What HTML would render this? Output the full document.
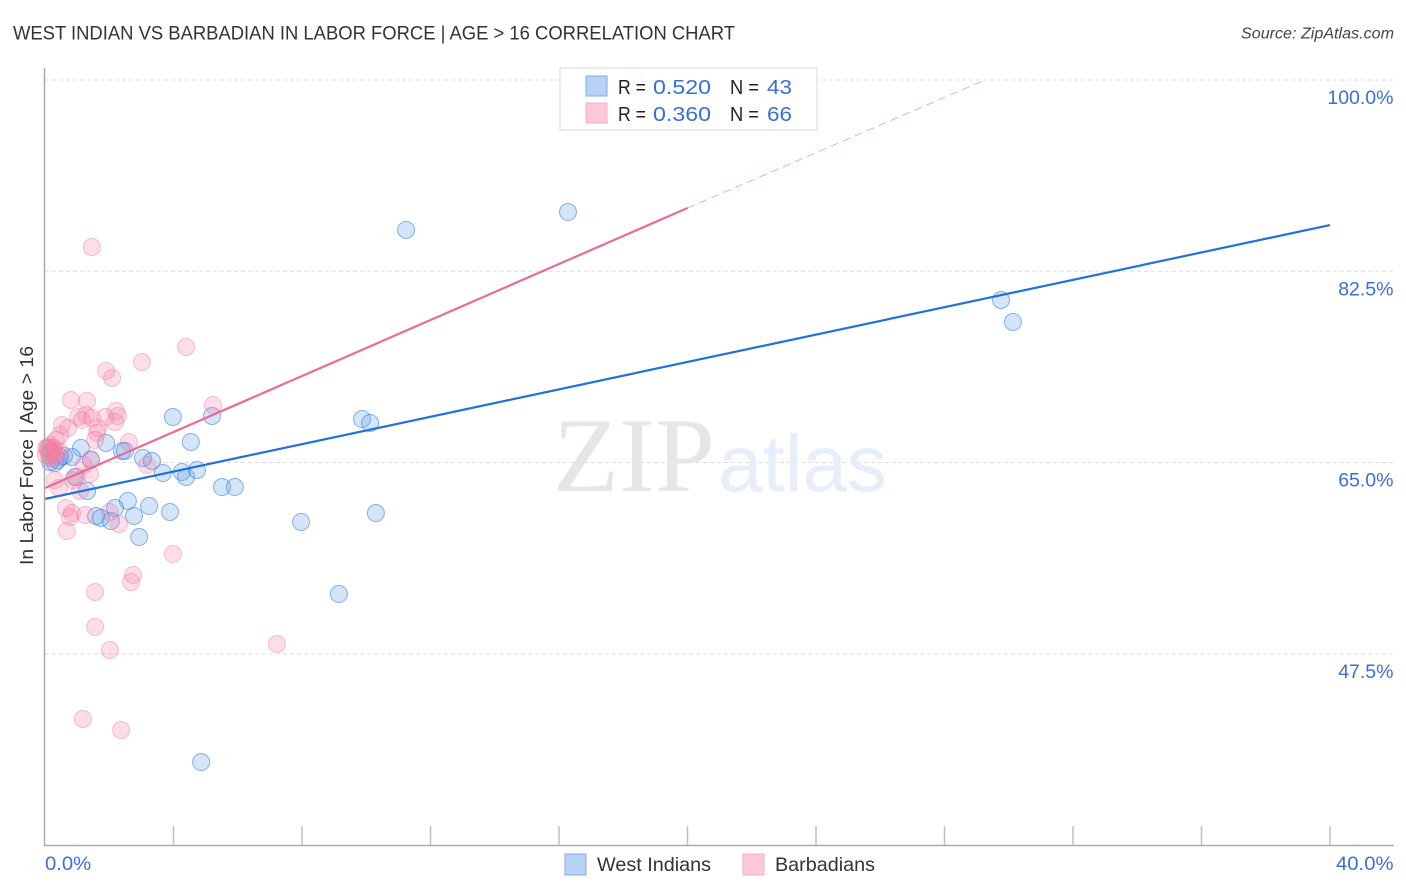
<!DOCTYPE html>
<html lang="en">
<head>
<meta charset="utf-8">
<title>West Indian vs Barbadian in Labor Force | Age > 16 Correlation Chart</title>
<style>
html,body{margin:0;padding:0;background:#fff;}
svg{display:block;font-family:"Liberation Sans",sans-serif;}
#points{filter:blur(0.35px);}
</style>
</head>
<body>
<svg id="chart" xmlns="http://www.w3.org/2000/svg" width="1406" height="892" viewBox="0 0 1406 892">
  <rect x="0" y="0" width="1406" height="892" fill="#ffffff"/>
  <text x="13" y="39.500" font-size="19.500" fill="#333333" textLength="722" lengthAdjust="spacingAndGlyphs">WEST INDIAN VS BARBADIAN IN LABOR FORCE | AGE &gt; 16 CORRELATION CHART</text>
  <text x="1394" y="38.500" font-size="15.500" font-style="italic" fill="#444444" text-anchor="end" textLength="153" lengthAdjust="spacingAndGlyphs">Source: ZipAtlas.com</text>
  <text transform="translate(33,565) rotate(-90)" font-size="18.500" fill="#333333" textLength="219" lengthAdjust="spacingAndGlyphs">In Labor Force | Age &gt; 16</text>

  <g id="grid"></g>
  <text x="553" y="491" font-family="'Liberation Serif',serif" font-size="106" fill="#e6e6e6" textLength="162" lengthAdjust="spacingAndGlyphs">ZIP</text>
  <text x="718" y="491" font-size="80" fill="#e6eefa" textLength="169" lengthAdjust="spacingAndGlyphs">atlas</text>

  <g id="points"></g>
  <g id="lines"></g>

  <line x1="44.500" y1="68" x2="44.500" y2="846" stroke="#aaaaaa" stroke-width="1.500"/>
  <line x1="44" y1="845.500" x2="1394" y2="845.500" stroke="#aaaaaa" stroke-width="1.500"/>
  <g id="ticks"></g>

  <g>
    <rect x="560" y="68" width="257" height="62" fill="#ffffff" fill-opacity="0.9" stroke="#d8d8d8" stroke-width="1"/>
    <rect x="586" y="76" width="21" height="20" fill="#b8d2f5" stroke="#7fabe6" stroke-width="1"/>
    <rect x="586" y="103" width="21" height="20" fill="#fac8d8" stroke="#f5afc6" stroke-width="1"/>
    <text x="618" y="94" font-size="20" fill="#222222" textLength="28" lengthAdjust="spacingAndGlyphs">R =</text>
    <text x="653" y="94" font-size="20.500" fill="#3a6fd8" textLength="58" lengthAdjust="spacingAndGlyphs">0.520</text>
    <text x="730" y="94" font-size="20" fill="#222233" textLength="29" lengthAdjust="spacingAndGlyphs">N =</text>
    <text x="767" y="94" font-size="20.500" fill="#3a6fd8" textLength="25" lengthAdjust="spacingAndGlyphs">43</text>
    <text x="618" y="121" font-size="20" fill="#222222" textLength="28" lengthAdjust="spacingAndGlyphs">R =</text>
    <text x="653" y="121" font-size="20.500" fill="#3a6fd8" textLength="58" lengthAdjust="spacingAndGlyphs">0.360</text>
    <text x="730" y="121" font-size="20" fill="#222233" textLength="29" lengthAdjust="spacingAndGlyphs">N =</text>
    <text x="767" y="121" font-size="20.500" fill="#3a6fd8" textLength="25" lengthAdjust="spacingAndGlyphs">66</text>
  </g>

  <g>
    <rect x="565" y="854" width="21" height="21" fill="#b8d2f5" stroke="#7fabe6" stroke-width="1"/>
    <text x="597" y="871" font-size="19.500" fill="#333333" textLength="114" lengthAdjust="spacingAndGlyphs">West Indians</text>
    <rect x="743" y="854" width="21" height="21" fill="#fac8d8" stroke="#f5afc6" stroke-width="1"/>
    <text x="775" y="871" font-size="19.500" fill="#333333" textLength="100" lengthAdjust="spacingAndGlyphs">Barbadians</text>
  </g>
</svg>
<script>
var xTickValues = [0, 4, 8, 12, 16, 20, 24, 28, 32, 36, 40];
var xTickLabels = ['0.0%', '40.0%'];
var yTickValues = [100, 82.5, 65, 47.5];
var yTickLabels = ['100.0%', '82.5%', '65.0%', '47.5%'];

var westIndianX = [16.28,11.24,29.76,30.13,5.20,3.98,9.87,10.12,4.54,1.90,1.12,2.40,2.49,3.05,3.33,1.43,0.84,0.47,0.31,3.67,4.26,4.39,4.73,5.51,5.91,0.93,1.31,2.58,2.18,3.24,3.89,2.77,1.59,1.74,2.05,2.93,7.97,10.30,9.15,4.86,0.59,0.16,0.40];
var westIndianY = [87.92,86.28,79.87,77.86,69.26,69.17,68.98,68.62,66.88,66.79,66.33,66.06,66.06,65.42,65.14,65.23,65.51,65.51,64.96,64.04,64.14,63.68,64.32,62.76,62.76,63.68,62.40,61.48,60.84,61.02,60.48,60.11,60.11,59.93,59.65,58.19,59.56,60.38,52.97,37.60,65.60,65.05,65.23];

var barbadianX = [18.40,1.46,4.39,3.02,1.90,2.09,0.81,1.31,5.23,2.21,2.27,2.18,1.87,1.28,1.03,1.46,1.15,0.53,1.65,1.62,0.47,0.72,2.61,3.18,1.40,0.87,0.22,0.16,1.56,0.16,0.34,0.09,0.22,0.28,0.03,0.16,0.31,0.47,1.43,1.21,0.12,0.25,1.00,0.31,0.44,1.09,0.65,0.84,0.78,1.25,2.02,2.30,0.68,2.74,2.68,1.56,3.98,1.56,2.02,7.22,1.18,2.37,0.09,0.16,0.28,0.03];
var barbadianY = [100.00,84.72,75.57,74.20,73.38,72.74,70.72,70.63,70.27,69.72,69.26,68.71,69.17,69.35,69.17,69.08,68.89,68.44,68.16,67.70,67.52,68.16,66.88,64.78,63.95,63.40,65.97,66.33,67.06,66.60,67.06,66.24,66.15,66.06,65.69,65.42,65.69,65.97,65.32,64.78,65.69,65.42,63.68,63.40,62.67,62.40,60.84,60.38,60.02,60.20,60.48,59.38,58.74,54.71,54.07,53.16,56.63,49.95,47.85,48.40,41.54,40.53,66.42,65.97,66.33,66.33];

var westIndianTrendX = [0, 40];
var westIndianTrendY = [61.67, 86.73];
var barbadianTrendX = [0, 20];
var barbadianTrendY = [62.67, 88.29];
var barbadianExtensionX = [20, 29.26];
var barbadianExtensionY = [88.29, 100];

var NS = 'http://www.w3.org/2000/svg';
function xScale(v) { return 45 + v * 32.125; }
function yScale(v) { return 80 + (100 - v) * 10.93; }
function make(tag, attrs, parent) {
  var el = document.createElementNS(NS, tag);
  for (var k in attrs) { el.setAttribute(k, attrs[k]); }
  parent.appendChild(el);
  return el;
}
function widen(el) {
  el.setAttribute('textLength', (el.getComputedTextLength() * 1.04).toFixed(1));
  el.setAttribute('lengthAdjust', 'spacingAndGlyphs');
}

var gridGroup = document.getElementById('grid');
var tickGroup = document.getElementById('ticks');
var pointGroup = document.getElementById('points');
var lineGroup = document.getElementById('lines');

yTickValues.forEach(function (v, i) {
  var y = yScale(v);
  var gl = make('line', {x1: 45, y1: y, x2: 1394, y2: y, stroke: '#dddddd', 'stroke-width': 1, 'stroke-dasharray': '4 3'}, gridGroup);
  
  
  var lb = make('text', {x: 1393.5, y: y + 24, 'font-size': 19.5, fill: '#3a6fd8', 'text-anchor': 'end'}, tickGroup);
  lb.textContent = yTickLabels[i];
  
  
});

xTickValues.forEach(function (v) {
  if (v === 0) { return; }
  var x = xScale(v);
  var t = make('line', {x1: x, y1: 826, x2: x, y2: 845, stroke: '#c0c0c0', 'stroke-width': 1.5}, tickGroup);
  
  
});

var x0Label = make('text', {x: 45, y: 870, 'font-size': 19.5, fill: '#3a6fd8'}, tickGroup);
x0Label.textContent = xTickLabels[0];


widen(x0Label);
var x1Label = make('text', {x: 1393.5, y: 870, 'font-size': 19.5, fill: '#3a6fd8', 'text-anchor': 'end'}, tickGroup);
x1Label.textContent = xTickLabels[1];


widen(x1Label);

westIndianX.forEach(function (v, i) {
  var c = make('circle', {cx: xScale(v), cy: yScale(westIndianY[i]), r: 8.5, fill: 'rgba(100,160,235,0.28)', stroke: 'rgba(30,110,210,0.5)', 'stroke-width': 1}, pointGroup);
  
  
});

barbadianX.forEach(function (v, i) {
  var c = make('circle', {cx: xScale(v), cy: yScale(barbadianY[i]), r: 8.5, fill: 'rgba(245,130,170,0.27)', stroke: 'rgba(240,120,160,0.45)', 'stroke-width': 1}, pointGroup);
  
  
});

var blueLine = make('line', {x1: xScale(westIndianTrendX[0]), y1: yScale(westIndianTrendY[0]), x2: xScale(westIndianTrendX[1]), y2: yScale(westIndianTrendY[1]), stroke: '#1f72d8', 'stroke-width': 2.2}, lineGroup);



var pinkLine = make('line', {x1: xScale(barbadianTrendX[0]), y1: yScale(barbadianTrendY[0]), x2: xScale(barbadianTrendX[1]), y2: yScale(barbadianTrendY[1]), stroke: '#ec6a97', 'stroke-width': 2.2}, lineGroup);



var pinkExt = make('line', {x1: xScale(barbadianExtensionX[0]), y1: yScale(barbadianExtensionY[0]), x2: xScale(barbadianExtensionX[1]), y2: yScale(barbadianExtensionY[1]), stroke: '#f2a9c2', 'stroke-width': 1, 'stroke-dasharray': '8 5'}, lineGroup);


</script>
</body>
</html>
